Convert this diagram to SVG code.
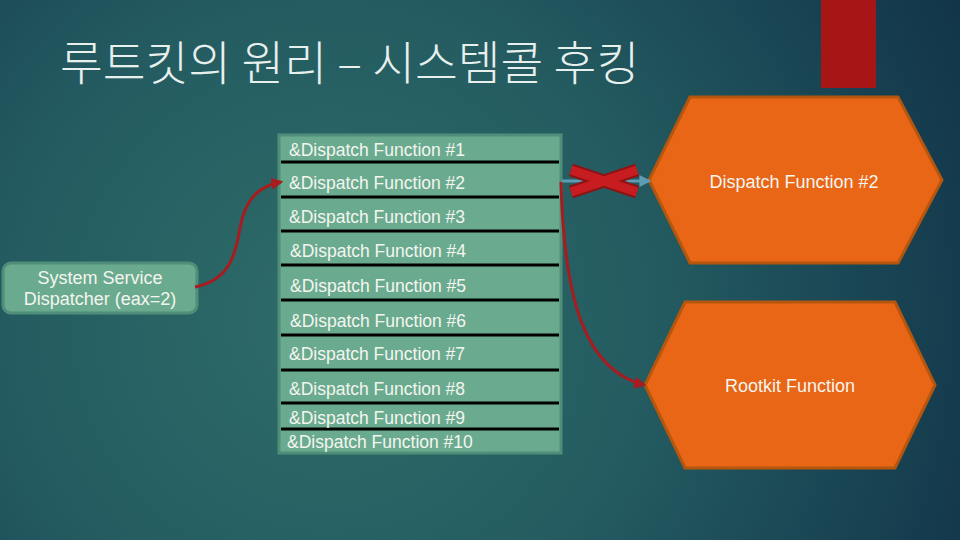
<svg xmlns="http://www.w3.org/2000/svg" width="960" height="540" viewBox="0 0 960 540">
  <defs>
    <radialGradient id="bg" cx="330" cy="320" r="700" gradientUnits="userSpaceOnUse">
      <stop offset="0" stop-color="#2f6c69"/>
      <stop offset="0.45" stop-color="#245c61"/>
      <stop offset="1" stop-color="#12354a"/>
    </radialGradient>
    <marker id="ah" viewBox="0 0 10 10" refX="8" refY="5" markerWidth="4" markerHeight="4" orient="auto">
      <path d="M0,0 L10,5 L0,10 z" fill="#a61c1f"/>
    </marker>
    <marker id="ahb" viewBox="0 0 10 10" refX="8" refY="5" markerWidth="4" markerHeight="4" orient="auto">
      <path d="M0,0 L10,5 L0,10 z" fill="#5e9cb4"/>
    </marker>
    <style>
      .lbl { font-family: "Liberation Sans", Arial, sans-serif; font-size: 17.5px; fill: #f5f5f0; }
      .big { font-size: 18px; }
      .row { stroke: #000; stroke-width: 3; }
      .hex { fill: #e86615; stroke: #b5560f; stroke-width: 3; }
      .box { fill: #6aab8f; stroke: #4f8e78; stroke-width: 3; }
      .conn { fill: none; stroke: #a61c1f; stroke-width: 3; }
    </style>
  </defs>

  <rect width="960" height="540" fill="url(#bg)"/>
  <rect x="821" y="0" width="55" height="88" fill="#a81517"/>

  <text x="60" y="80" font-family="'Noto Sans CJK KR', sans-serif" font-weight="300" font-size="46.5" fill="#e8f0ee">루트킷의 원리 – 시스템콜 후킹</text>

  <g id="table">
    <rect class="box" x="279" y="135" width="282" height="318"/>
    <line class="row" x1="281" y1="162" x2="559" y2="162"/>
    <line class="row" x1="281" y1="197" x2="559" y2="197"/>
    <line class="row" x1="281" y1="231" x2="559" y2="231"/>
    <line class="row" x1="281" y1="265" x2="559" y2="265"/>
    <line class="row" x1="281" y1="300" x2="559" y2="300"/>
    <line class="row" x1="281" y1="335" x2="559" y2="335"/>
    <line class="row" x1="281" y1="370" x2="559" y2="370"/>
    <line class="row" x1="281" y1="403" x2="559" y2="403"/>
    <line class="row" x1="281" y1="429" x2="559" y2="429"/>
    <text class="lbl" x="289" y="156">&amp;Dispatch Function #1</text>
    <text class="lbl" x="289" y="189">&amp;Dispatch Function #2</text>
    <text class="lbl" x="289" y="223">&amp;Dispatch Function #3</text>
    <text class="lbl" x="290" y="257">&amp;Dispatch Function #4</text>
    <text class="lbl" x="290" y="292">&amp;Dispatch Function #5</text>
    <text class="lbl" x="290" y="327">&amp;Dispatch Function #6</text>
    <text class="lbl" x="289" y="360">&amp;Dispatch Function #7</text>
    <text class="lbl" x="289" y="395">&amp;Dispatch Function #8</text>
    <text class="lbl" x="289" y="424">&amp;Dispatch Function #9</text>
    <text class="lbl" x="287" y="448">&amp;Dispatch Function #10</text>
  </g>

  <g id="dispatcher">
    <rect class="box" x="3" y="263" width="194" height="50" rx="8"/>
    <text class="lbl big" x="100" y="284" text-anchor="middle">System Service</text>
    <text class="lbl big" x="100" y="305" text-anchor="middle">Dispatcher (eax=2)</text>
  </g>

  <g id="dispatch2">
    <polygon class="hex" points="690,97 898,97 942,180 898,263 690,263 649,180"/>
    <text class="lbl big" x="794" y="188" text-anchor="middle">Dispatch Function #2</text>
  </g>

  <g id="rootkit">
    <polygon class="hex" points="685,302 895,302 935,385 895,468 685,468 645,385"/>
    <text class="lbl big" x="790" y="392" text-anchor="middle">Rootkit Function</text>
  </g>

  <g id="connectors">
    <path class="conn" d="M195,287 C232,280 236,250 240,228 C245,200 258,186 281,182" marker-end="url(#ah)"/>
    <line x1="562" y1="181" x2="649" y2="181" stroke="#5e9cb4" stroke-width="3" marker-end="url(#ahb)"/>
    <path class="conn" d="M561,182 C564,300 585,370 644,385" marker-end="url(#ah)"/>
    <g id="cross">
      <line x1="571" y1="170" x2="637" y2="192" stroke="#8c1414" stroke-width="13"/>
      <line x1="571" y1="192" x2="637" y2="170" stroke="#8c1414" stroke-width="13"/>
      <line x1="571" y1="170" x2="637" y2="192" stroke="#c81d20" stroke-width="9"/>
      <line x1="571" y1="192" x2="637" y2="170" stroke="#c81d20" stroke-width="9"/>
    </g>
  </g>
</svg>
